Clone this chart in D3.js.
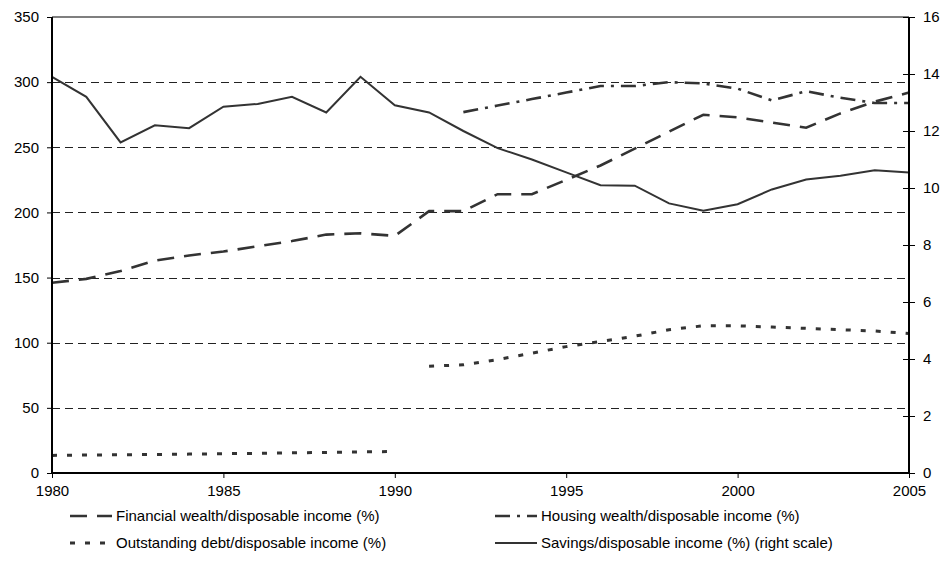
<!DOCTYPE html>
<html>
<head>
<meta charset="utf-8">
<script src="https://cdn.jsdelivr.net/npm/d3@7"></script>
<style>
  body { margin: 0; background: #fff; }
  svg text { font-family: "Liberation Sans", Arial, sans-serif; fill: #000; }
</style>
</head>
<body>
<svg id="chart"></svg>
<script>
// data
const years = [1980, 1981, 1982, 1983, 1984, 1985, 1986, 1987, 1988, 1989, 1990, 1991, 1992,
  1993, 1994, 1995, 1996, 1997, 1998, 1999, 2000, 2001, 2002, 2003, 2004, 2005];
const financial = [146, 149, 155, 163, 167, 170, 174, 178, 183, 184, 182, 201, 201,
  214, 214, 225, 236, 249, 262, 275, 273, 269, 265, 276, 285, 292];
const housingYears = [1992, 1993, 1994, 1995, 1996, 1997, 1998, 1999, 2000, 2001, 2002, 2003, 2004, 2005];
const housing = [277, 282, 287, 292, 297, 297, 300, 299, 295, 286, 293, 288, 284, 284];
const debtYearsA = [1980, 1981, 1982, 1983, 1984, 1985, 1986, 1987, 1988, 1989, 1990];
const debtA = [13.5, 13.8, 14, 14.2, 14.5, 14.8, 15.1, 15.5, 15.8, 16.2, 16.5];
const debtYearsB = [1991, 1992, 1993, 1994, 1995, 1996, 1997, 1998, 1999, 2000, 2001, 2002, 2003, 2004, 2005];
const debtB = [82, 83, 87, 92, 97, 101, 105, 110, 113, 113, 112, 111, 110, 109, 107];
const savings = [13.9, 13.2, 11.6, 12.2, 12.1, 12.85, 12.95, 13.2, 12.65, 13.9, 12.9, 12.65, 12.0,
  11.4, 11.0, 10.55, 10.1, 10.08, 9.46, 9.2, 9.43, 9.95, 10.3, 10.43, 10.62, 10.54];
const leftTicks = [0, 50, 100, 150, 200, 250, 300, 350];
const rightTicks = [0, 2, 4, 6, 8, 10, 12, 14, 16];
const xTicks = [1980, 1985, 1990, 1995, 2000, 2005];
const legendLabels = [
  'Financial wealth/disposable income (%)',
  'Housing wealth/disposable income (%)',
  'Outstanding debt/disposable income (%)',
  'Savings/disposable income (%) (right scale)'
];

const W = 945, H = 581;
const L = 52, R = 909, T = 17, B = 473;
const ink = '#333';

const svg = d3.select('#chart').attr('width', W).attr('height', H);

const x = d3.scaleLinear().domain([1980, 2005]).range([L, R]);
const yL = d3.scaleLinear().domain([0, 350]).range([B, T]);
const yR = d3.scaleLinear().domain([0, 16]).range([B, T]);

// gridlines
svg.append('g')
  .selectAll('line')
  .data(leftTicks.filter(v => v > 0 && v < 350))
  .join('line')
  .attr('x1', L).attr('x2', R)
  .attr('y1', d => Math.round(yL(d)) + 0.5)
  .attr('y2', d => Math.round(yL(d)) + 0.5)
  .attr('stroke', '#222')
  .attr('stroke-width', 1)
  .attr('stroke-dasharray', '8,5');

// top border
svg.append('line')
  .attr('x1', L).attr('x2', R)
  .attr('y1', yL(350)).attr('y2', yL(350))
  .attr('stroke', '#555')
  .attr('stroke-width', 1.5);

// series
function drawLine(xs, vs, scale, dash, width) {
  const pts = xs.map((yr, i) => [yr, vs[i]]);
  svg.append('path')
    .datum(pts)
    .attr('fill', 'none')
    .attr('stroke', ink)
    .attr('stroke-width', width)
    .attr('stroke-dasharray', dash)
    .attr('stroke-linejoin', 'miter')
    .attr('d', d3.line()
      .x(d => x(d[0]))
      .y(d => scale(d[1])));
}

drawLine(years, financial, yL, '17,10', 2.6);
drawLine(housingYears, housing, yL, '15,7,3,7', 2.6);
drawLine(debtYearsA, debtA, yL, '5,10', 3);
drawLine(debtYearsB, debtB, yL, '5,10', 3);
drawLine(years, savings, yR, null, 2);

// axes
const axL = svg.append('g')
  .attr('transform', `translate(${L},0)`)
  .call(d3.axisLeft(yL).tickValues(leftTicks).tickSize(5).tickPadding(8));
const axR = svg.append('g')
  .attr('transform', `translate(${R},0)`)
  .call(d3.axisRight(yR).tickValues(rightTicks).tickSize(6).tickPadding(8));
const axB = svg.append('g')
  .attr('transform', `translate(0,${B})`)
  .call(d3.axisBottom(x).tickValues(xTicks).tickFormat(d3.format('d')).tickSize(5).tickPadding(7));

[axL, axR, axB].forEach(g => {
  g.select('.domain').attr('stroke', '#000').attr('stroke-width', 2);
  g.selectAll('.tick line').attr('stroke', '#000').attr('stroke-width', 1);
  g.selectAll('.tick text').attr('font-size', 15).style('font-family', '"Liberation Sans", Arial, sans-serif');
});
// right ticks cross the axis
axR.selectAll('.tick line').attr('x1', -6);
axR.select('.domain').attr('d', `M0,${T}V${B}`);
axL.select('.domain').attr('d', `M0,${T}V${B}`);
axB.select('.domain').attr('d', `M${L},0H${R}`);

// legend
const legend = [
  { x: 70, y: 516, dash: '17,10', w: 2.6, label: legendLabels[0] },
  { x: 495, y: 516, dash: '15,7,3,7', w: 2.6, label: legendLabels[1] },
  { x: 70, y: 543, dash: '5,10', w: 3, label: legendLabels[2] },
  { x: 495, y: 543, dash: null, w: 2, label: legendLabels[3] }
];
const lg = svg.append('g').selectAll('g').data(legend).join('g')
  .attr('transform', d => `translate(${d.x},${d.y})`);
lg.append('line')
  .attr('x1', 0).attr('x2', 42)
  .attr('stroke', ink)
  .attr('stroke-width', d => d.w)
  .attr('stroke-dasharray', d => d.dash);
lg.append('text')
  .attr('x', 46)
  .attr('dy', '0.35em')
  .attr('font-size', 15)
  .text(d => d.label);
</script>
</body>
</html>
